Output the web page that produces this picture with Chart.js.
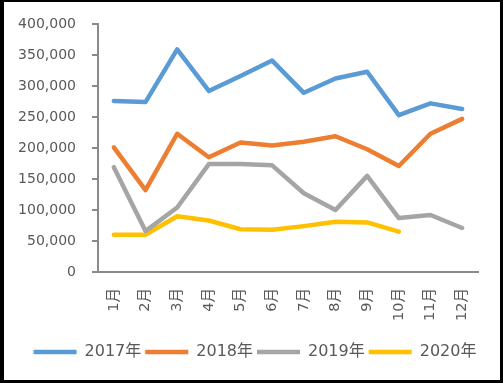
<!DOCTYPE html>
<html>
<head>
<meta charset="utf-8">
<script src="https://cdn.jsdelivr.net/npm/chart.js@4.4.1/dist/chart.umd.min.js"></script>
<style>
  html, body { margin: 0; padding: 0; background: #fff; }
  #frame {
    position: absolute; left: 0; top: 0;
    width: 496px; height: 378px;
    border-style: solid; border-color: #000;
    border-width: 2px 3px 3px 4px;
    background: #fff;
  }
  #c { display: block; }
</style>
</head>
<body>
<div id="frame"><canvas id="c" width="496" height="378"></canvas></div>
<script>
const categories = ['1月','2月','3月','4月','5月','6月','7月','8月','9月','10月','11月','12月'];
const seriesNames = ['2017年','2018年','2019年','2020年'];
const values2017 = [276000, 274000, 359000, 292000, 316000, 341000, 289000, 312000, 323000, 253000, 272000, 263000];
const values2018 = [201000, 132000, 223000, 185000, 209000, 204000, 210000, 219000, 198000, 171000, 223000, 247000];
const values2019 = [169000, 66000, 104000, 174000, 174000, 172000, 127000, 100000, 155000, 87000, 92000, 71000];
const values2020 = [60000, 60000, 90000, 83000, 69000, 68000, 74000, 81000, 80000, 65000];
const yTicks = [0, 50000, 100000, 150000, 200000, 250000, 300000, 350000, 400000];

const colors = ['#5B9BD5', '#ED7D31', '#A5A5A5', '#FFC000'];
const allValues = [values2017, values2018, values2019, values2020];
const FONT = '"DejaVu Sans", "Noto Sans CJK SC", sans-serif';
const TXT = '#595959';
const AXIS = '#8a8a8a';

const legendShift = {
  id: 'legendShift',
  afterLayout(chart) {
    const lg = chart.legend;
    if (lg) { lg.left += 14; lg.right += 14; }
  }
};

new Chart(document.getElementById('c'), {
  type: 'line',
  data: {
    labels: categories,
    datasets: allValues.map((v, i) => ({
      label: seriesNames[i],
      data: v,
      borderColor: colors[i],
      backgroundColor: colors[i],
      borderWidth: 4.5,
      pointRadius: 0,
      pointHoverRadius: 0,
      pointStyle: 'line',
      tension: 0,
      borderJoinStyle: 'round',
      borderCapStyle: 'round',
      fill: false
    }))
  },
  plugins: [legendShift],
  options: {
    responsive: false,
    animation: false,
    devicePixelRatio: 1,
    layout: { padding: { left: 0, right: 22, top: 22, bottom: 10 } },
    plugins: {
      tooltip: { enabled: false },
      legend: {
        position: 'bottom',
        labels: {
          usePointStyle: true,
          pointStyle: 'line',
          pointStyleWidth: 43,
          boxHeight: 10,
          padding: 4,
          color: TXT,
          font: { family: FONT, size: 16 }
        }
      }
    },
    scales: {
      x: {
        offset: true,
        grid: { display: true, drawOnChartArea: false, drawTicks: false },
        border: { display: true, color: AXIS, width: 2 },
        afterFit: (s) => { s.height = 68; s.paddingLeft = 0; s.paddingRight = 0; },
        ticks: {
          autoSkip: false,
          maxRotation: 90,
          minRotation: 90,
          padding: 16,
          color: TXT,
          font: { family: FONT, size: 14.5 }
        }
      },
      y: {
        min: 0,
        max: 400000,
        afterBuildTicks: (s) => { s.ticks = yTicks.map(v => ({ value: v })); },
        afterFit: (s) => { s.width = 94; s.paddingTop = 0; s.paddingBottom = 0; },
        grid: { display: true, drawOnChartArea: false, drawTicks: true, tickLength: 6, color: AXIS, lineWidth: 2 },
        border: { display: true, color: AXIS, width: 2 },
        ticks: {
          padding: 16,
          color: TXT,
          font: { family: FONT, size: 14 },
          callback: (v) => Number(v).toLocaleString('en-US')
        }
      }
    }
  }
});
</script>
</body>
</html>
